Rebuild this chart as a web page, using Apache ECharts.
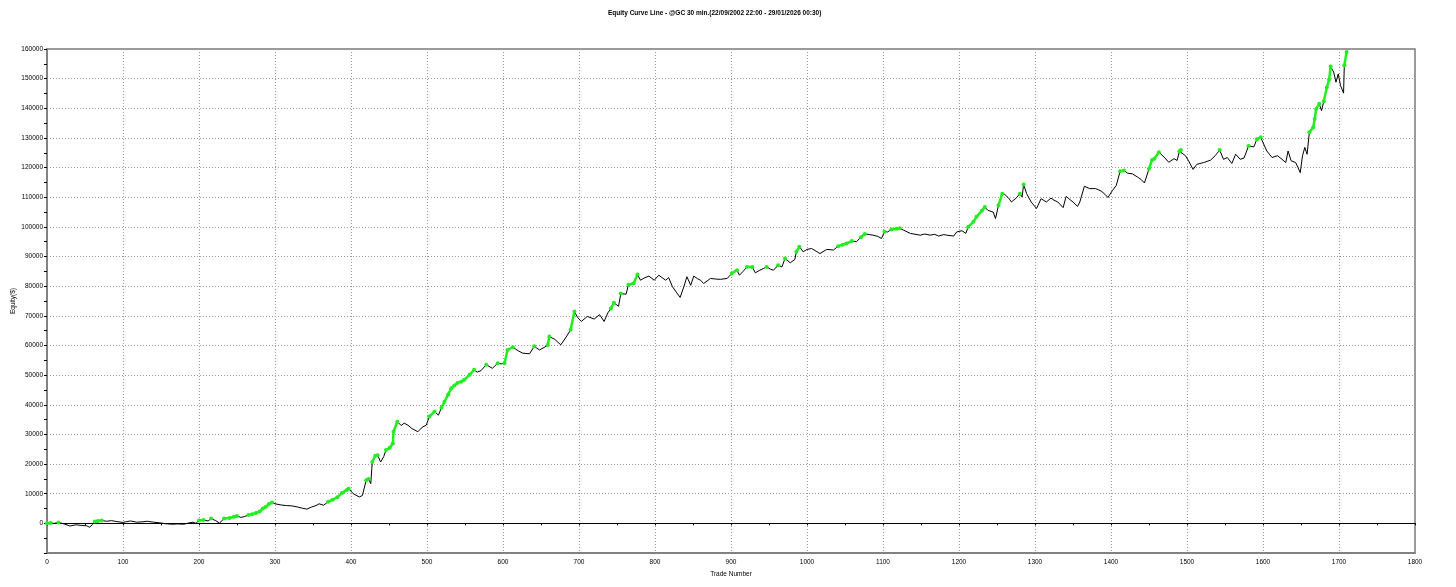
<!DOCTYPE html>
<html>
<head>
<meta charset="utf-8">
<title>Equity Curve Line</title>
<script src="https://cdn.jsdelivr.net/npm/echarts@6/dist/echarts.min.js"></script>
<style>
    html, body { margin: 0; padding: 0; background: #fff; }
    .equity-curve { width: 1456px; height: 587px; }
</style>
</head>
<body>
<div class="equity-curve"></div>
<script>
// trade number (x) and closed equity in $ (y)
var trades = [
    0, 5, 10, 15, 20, 25, 30, 38, 45, 52, 56, 60, 63, 67, 72, 78, 85, 92, 100, 105,
    110, 118, 125, 132, 140, 148, 155, 165, 172, 180, 186, 192, 196, 200, 206, 212, 216, 222, 227, 233,
    240, 246, 250, 255, 260, 265, 270, 275, 280, 284, 288, 292, 296, 300, 308, 315, 322, 330, 336, 342,
    348, 354, 358, 364, 370, 376, 382, 388, 394, 397, 403, 411, 415, 420, 423, 426, 428, 432, 435, 439,
    443, 446, 451, 455, 456, 461, 466, 470, 475, 480, 488, 494, 499, 503, 510, 515, 519, 523, 528, 532,
    536, 540, 545, 549, 556, 562, 566, 571, 578, 586, 593, 598, 602, 606, 613, 620, 626, 635, 641, 648,
    654, 659, 661, 668, 676, 683, 689, 694, 698, 703, 711, 720, 727, 733, 738, 742, 746, 752, 755, 762,
    765, 772, 777, 781, 786, 792, 799, 805, 814, 818, 823, 828, 833, 838, 842, 847, 851, 856, 860, 864,
    873, 880, 886, 895, 901, 908, 911, 916, 921, 928, 932, 938, 943, 947, 952, 956, 962, 967, 971, 978,
    984, 986, 990, 995, 1000, 1006, 1012, 1017, 1026, 1035, 1041, 1047, 1052, 1059, 1065, 1071, 1076, 1082, 1087, 1093,
    1098, 1102, 1106, 1111, 1118, 1122, 1127, 1136, 1149, 1155, 1162, 1168, 1173, 1180, 1184, 1193, 1197, 1204, 1209, 1212,
    1219, 1223, 1230, 1234, 1238, 1245, 1248, 1252, 1257, 1260, 1265, 1269, 1276, 1280, 1283, 1285, 1289, 1295, 1302, 1308,
    1315, 1321, 1325, 1330, 1337, 1341, 1346, 1350, 1356, 1359, 1365, 1372, 1380, 1387, 1392, 1396, 1402, 1407, 1412, 1417,
    1422, 1428, 1435, 1440, 1444, 1450, 1454, 1457, 1463, 1470, 1476, 1483, 1487, 1490, 1492, 1498, 1502, 1508, 1513, 1522,
    1531, 1537, 1543, 1548, 1553, 1559, 1564, 1570, 1575, 1581, 1588, 1592, 1597, 1599, 1605, 1612, 1619, 1625, 1630, 1633,
    1637, 1643, 1646, 1649, 1652, 1655, 1658, 1661, 1666, 1668, 1670, 1674, 1677, 1680, 1684, 1687, 1689, 1693, 1696, 1699,
    1702, 1706, 1707, 1710
];
var equity = [
    0, 100, 0, 300, 0, -400, -900, -500, -700, -800, -1300, -400, 600, 800, 1000, 700, 900, 600, 300, 600,
    800, 400, 500, 700, 400, 200, -100, -300, -200, -300, 100, 400, 0, 1000, 1100, 800, 1600, 900, 100, 1600,
    1800, 2200, 2500, 2000, 2300, 2800, 3100, 3500, 4000, 5000, 5600, 6500, 7000, 6600, 6200, 6000, 5900, 5500, 5100, 4800,
    5500, 6000, 6600, 6100, 7300, 8000, 8800, 10200, 11200, 11700, 10000, 8900, 9400, 14500, 15000, 13400, 20700, 22800, 23000, 20700,
    22500, 24700, 25500, 26900, 30900, 34300, 33000, 33800, 33100, 32000, 30900, 32500, 33100, 36000, 37700, 36500, 39000, 41000, 43500, 45600,
    46500, 47300, 47800, 48400, 50100, 51800, 51000, 51500, 53500, 52300, 54000, 53800, 54000, 58500, 59400, 58200, 57400, 57200, 59700, 58500,
    59300, 60200, 63000, 62100, 60200, 62800, 65300, 71500, 69500, 68100, 69800, 68900, 70400, 68100, 71000, 72500, 74400, 73200, 77500, 77300,
    80500, 81000, 83900, 82000, 82800, 83400, 82000, 83700, 82000, 82900, 79800, 78000, 76200, 79800, 83200, 80300, 83400, 82500, 82000, 80900,
    82600, 82400, 82300, 82600, 84300, 85400, 83700, 85000, 86500, 86500, 84500, 85400, 86000, 86500, 85700, 85400, 87100, 86500, 89300, 87900,
    89000, 91600, 93300, 91600, 92400, 92700, 91800, 91000, 92400, 92200, 93500, 94000, 94400, 95200, 95000, 96500, 97600, 97400, 97200, 96800,
    96100, 98400, 98300, 99100, 99400, 99500, 98900, 97800, 97200, 97600, 97200, 97500, 96900, 97400, 97200, 96900, 98300, 98700, 97800, 100000,
    101700, 103400, 105400, 106700, 105600, 105000, 102800, 107300, 111200, 111000, 109800, 108400, 109900, 111200, 110100, 114300, 111200, 108400, 106200, 109500,
    108400, 109700, 109000, 108400, 106500, 110300, 109200, 108400, 106900, 108400, 113700, 112900, 112900, 112100, 111000, 109900, 112300, 114000, 118800, 119000,
    118100, 117900, 116800, 115900, 114800, 119600, 122600, 123000, 125200, 123500, 121800, 123000, 122400, 125500, 125900, 124000, 122300, 119400, 121100, 121700,
    122500, 124000, 125900, 122800, 123400, 121400, 124500, 122800, 123200, 127300, 127000, 129600, 130200, 129000, 125600, 123400, 124000, 122800, 121700, 125600,
    122300, 121700, 120000, 118300, 124000, 126800, 124500, 131900, 133500, 136400, 139800, 141500, 139200, 142400, 147100, 149600, 154100, 152200, 148800, 151600,
    147700, 145100, 154400, 159000
];
// axis ticks
var xTicks = [0, 1800, 100];
var yTicks = [-10000, 160000, 10000];

let equity_chart = {

    // black curve + green new-high points
    draw() {
        // 实例化对象
        var myChart = echarts.init(document.querySelector('.equity-curve'));

        var curve = [];
        var highs = [];
        var peak = -Infinity;
        for (var i = 0; i < trades.length; i++) {
            curve.push([trades[i], equity[i]]);
            // a trade closing at a new equity high is marked green
            var isHigh = equity[i] >= peak;
            if (isHigh) peak = equity[i];
            highs.push(isHigh ? [trades[i], equity[i]] : [trades[i], '-']);
        }

        var font = 'Liberation Sans, Arial, sans-serif';
        var labelStyle = {
            color: '#000',
            fontSize: 6.5,
            fontFamily: font
        };
        var gridLine = {
            show: true,
            lineStyle: { color: '#9a9a9a', type: [1, 2], width: 1 }
        };
        var plain = function(v) { return String(v); };

        var option = {
            animation: false,
            backgroundColor: '#fff',
            title: {
                text: 'Equity Curve Line - @GC 30 min.(22/09/2002 22:00 - 29/01/2026 00:30)',
                left: 603,
                top: 5,
                textStyle: {
                    fontSize: 6.5,
                    fontWeight: 'bold',
                    color: '#000',
                    fontFamily: font
                }
            },
            grid: {
                left: 47,
                right: 41,
                top: 49,
                bottom: 34,
                outerBoundsMode: 'none',
                containLabel: false,
                show: true,
                borderColor: '#7a7a7a',
                borderWidth: 1.5
            },
            xAxis: [{
                type: 'value',
                min: xTicks[0],
                max: xTicks[1],
                interval: xTicks[2],
                name: 'Trade Number',
                nameLocation: 'middle',
                nameGap: 18,
                nameMoveOverlap: false,
                nameTextStyle: labelStyle,
                axisLine: { onZero: false, lineStyle: { color: '#7a7a7a', width: 1.5 } },
                axisTick: { show: false },
                axisLabel: Object.assign({ margin: 6, formatter: plain }, labelStyle),
                splitLine: gridLine
            }, {
                // zero line with small ticks every 50 trades
                type: 'value',
                min: xTicks[0],
                max: xTicks[1],
                interval: 50,
                position: 'bottom',
                axisLine: { onZero: true, lineStyle: { color: '#000', width: 1 } },
                axisTick: { show: true, length: 2, lineStyle: { color: '#000' } },
                axisLabel: { show: false },
                splitLine: { show: false }
            }],
            yAxis: {
                type: 'value',
                min: yTicks[0],
                max: yTicks[1],
                interval: yTicks[2],
                name: 'Equity($)',
                nameLocation: 'middle',
                nameGap: 30,
                nameMoveOverlap: false,
                nameTextStyle: labelStyle,
                axisLine: { show: true, lineStyle: { color: '#7a7a7a', width: 1.5 } },
                axisTick: { show: true, length: 3, lineStyle: { color: '#000' } },
                minorTick: { show: true, splitNumber: 2, length: 3, lineStyle: { color: '#000' } },
                axisLabel: Object.assign({
                    margin: 4,
                    formatter: function(v) { return v < 0 ? '' : String(v); }
                }, labelStyle),
                splitLine: gridLine
            },
            series: [{
                name: 'Equity',
                type: 'line',
                data: curve,
                symbol: 'none',
                lineStyle: { color: '#000', width: 1 }
            }, {
                name: 'New high',
                type: 'line',
                data: highs,
                connectNulls: false,
                symbol: 'circle',
                symbolSize: 4,
                showSymbol: true,
                itemStyle: { color: '#22ee22' },
                lineStyle: { color: '#22ee22', width: 2.5 }
            }]
        };
        // 配置给实例化对象
        myChart.setOption(option);

        window.onresize = function() {
            myChart.resize();
        }
    }
};

equity_chart.draw();
</script>
</body>
</html>
